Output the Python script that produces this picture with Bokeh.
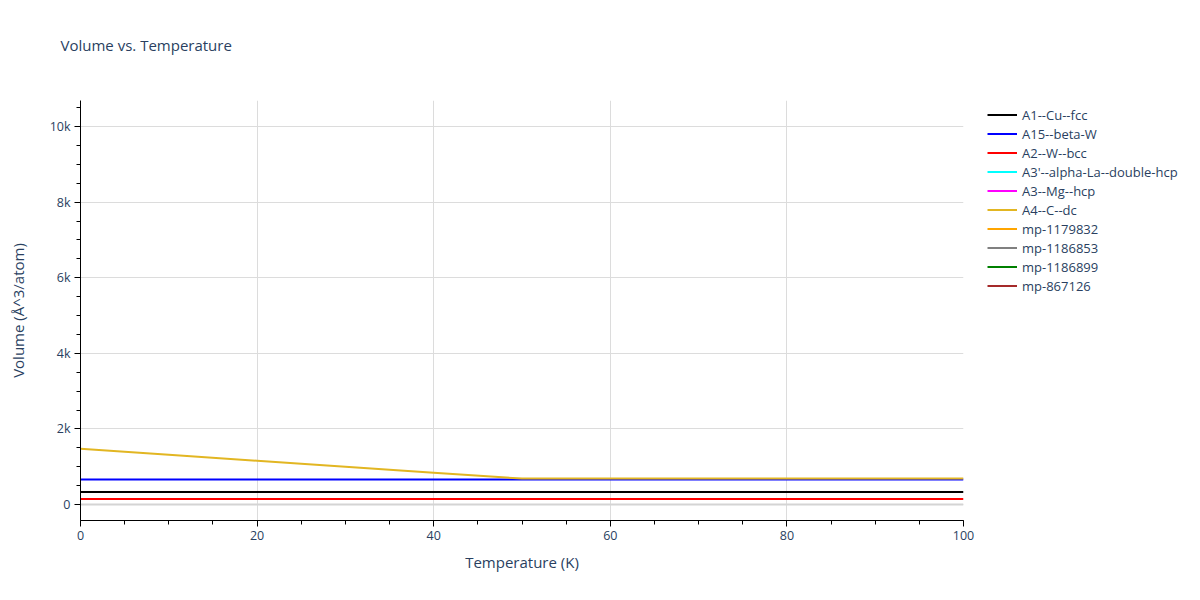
import numpy as np
from bokeh.plotting import figure
from bokeh.models import Range1d, Legend, LegendItem, Span, NumeralTickFormatter, Title
from bokeh.embed import file_html
from bokeh.resources import INLINE

# ---- data ----
temperature = [0, 10, 20, 30, 40, 50, 60, 70, 80, 90, 100]
a1_cu_fcc = [330, 330, 330, 330, 330, 330, 330, 330, 330, 330, 330]
a15_beta_w = [660, 660, 660, 660, 660, 660, 660, 660, 660, 660, 660]
a2_w_bcc = [145, 145, 145, 145, 145, 145, 145, 145, 145, 145, 145]
a4_c_dc = [1475, 1317, 1158, 1000, 842, 685, 686, 687, 688, 689, 690]
# series listed in the legend but with no points visible in the plotted range
a3p_alpha_la_dhcp = [np.nan]
a3_mg_hcp = [np.nan]
mp_1179832 = [np.nan]
mp_1186853 = [np.nan]
mp_1186899 = [np.nan]
mp_867126 = [np.nan]

series_names = ["A1--Cu--fcc", "A15--beta-W", "A2--W--bcc", "A3'--alpha-La--double-hcp",
                "A3--Mg--hcp", "A4--C--dc", "mp-1179832", "mp-1186853", "mp-1186899", "mp-867126"]
series_values = [a1_cu_fcc, a15_beta_w, a2_w_bcc, a3p_alpha_la_dhcp, a3_mg_hcp,
                 a4_c_dc, mp_1179832, mp_1186853, mp_1186899, mp_867126]
series_colors = ["black", "blue", "red", "cyan", "magenta", "#e2b622",
                 "orange", "gray", "green", "brown"]

x_range = (0, 100)
y_range = (-423, 10688)

TEXT = "#2a3f5f"
FONT = "Open Sans"

p = figure(frame_width=883, frame_height=420, output_backend="svg", toolbar_location=None,
           x_range=Range1d(*x_range), y_range=Range1d(*y_range),
           min_border_left=80, min_border_right=0, min_border_top=100, min_border_bottom=64)
p.outline_line_color = None
p.background_fill_color = "white"

# spacer (closest to the frame) then the visible title above it
p.add_layout(Title(text=" ", text_font=FONT, text_font_size="15px", standoff=19,
                   text_color="white"), "above")
p.add_layout(Title(text="Volume vs. Temperature", text_font=FONT, text_font_size="15px",
                   text_color=TEXT, text_font_style="normal", offset=-20, standoff=10), "above")

for ax in (p.xaxis[0], p.yaxis[0]):
    ax.axis_line_color = "black"
    ax.major_tick_line_color = "black"
    ax.minor_tick_line_color = "black"
    ax.major_tick_in = 0
    ax.major_tick_out = 6
    ax.minor_tick_in = 0
    ax.minor_tick_out = 4
    ax.major_label_text_font = FONT
    ax.major_label_text_font_size = "12.5px"
    ax.major_label_text_color = TEXT
    ax.axis_label_text_font = FONT
    ax.axis_label_text_font_size = "15px"
    ax.axis_label_text_color = TEXT
    ax.axis_label_text_font_style = "normal"
    ax.major_label_standoff = 4

p.xaxis.axis_label = "Temperature (K)"
p.xaxis.axis_label_standoff = 9
p.xaxis.ticker.desired_num_ticks = 6
p.xaxis.ticker.num_minor_ticks = 4
p.yaxis.axis_label = "Volume (Å^3/atom)"
p.yaxis.axis_label_standoff = 19
p.yaxis.formatter = NumeralTickFormatter(format="0a")
p.yaxis.ticker.desired_num_ticks = 6
p.yaxis.ticker.num_minor_ticks = 4

p.xgrid.grid_line_color = "#dcdcdc"
p.ygrid.grid_line_color = "#dcdcdc"
p.xgrid.grid_line_width = 1
p.ygrid.grid_line_width = 1

zero = Span(location=0, dimension="width", line_color="#d4d4d4", line_width=2, level="underlay")
p.add_layout(zero)

items = []
for name, vals, col in zip(series_names, series_values, series_colors):
    xs = temperature[:len(vals)]
    r = p.line(xs, vals, line_color=col, line_width=2)
    items.append(LegendItem(label=name, renderers=[r]))

legend = Legend(items=items, location=(24, 225), padding=0, margin=0,
                border_line_color=None, background_fill_alpha=0,
                glyph_width=30, glyph_height=19, label_height=19, label_standoff=5,
                spacing=0, label_text_font=FONT, label_text_font_size="13px",
                label_text_color=TEXT)
p.add_layout(legend, "right")

open("out.html", "w").write(file_html(p, INLINE))
